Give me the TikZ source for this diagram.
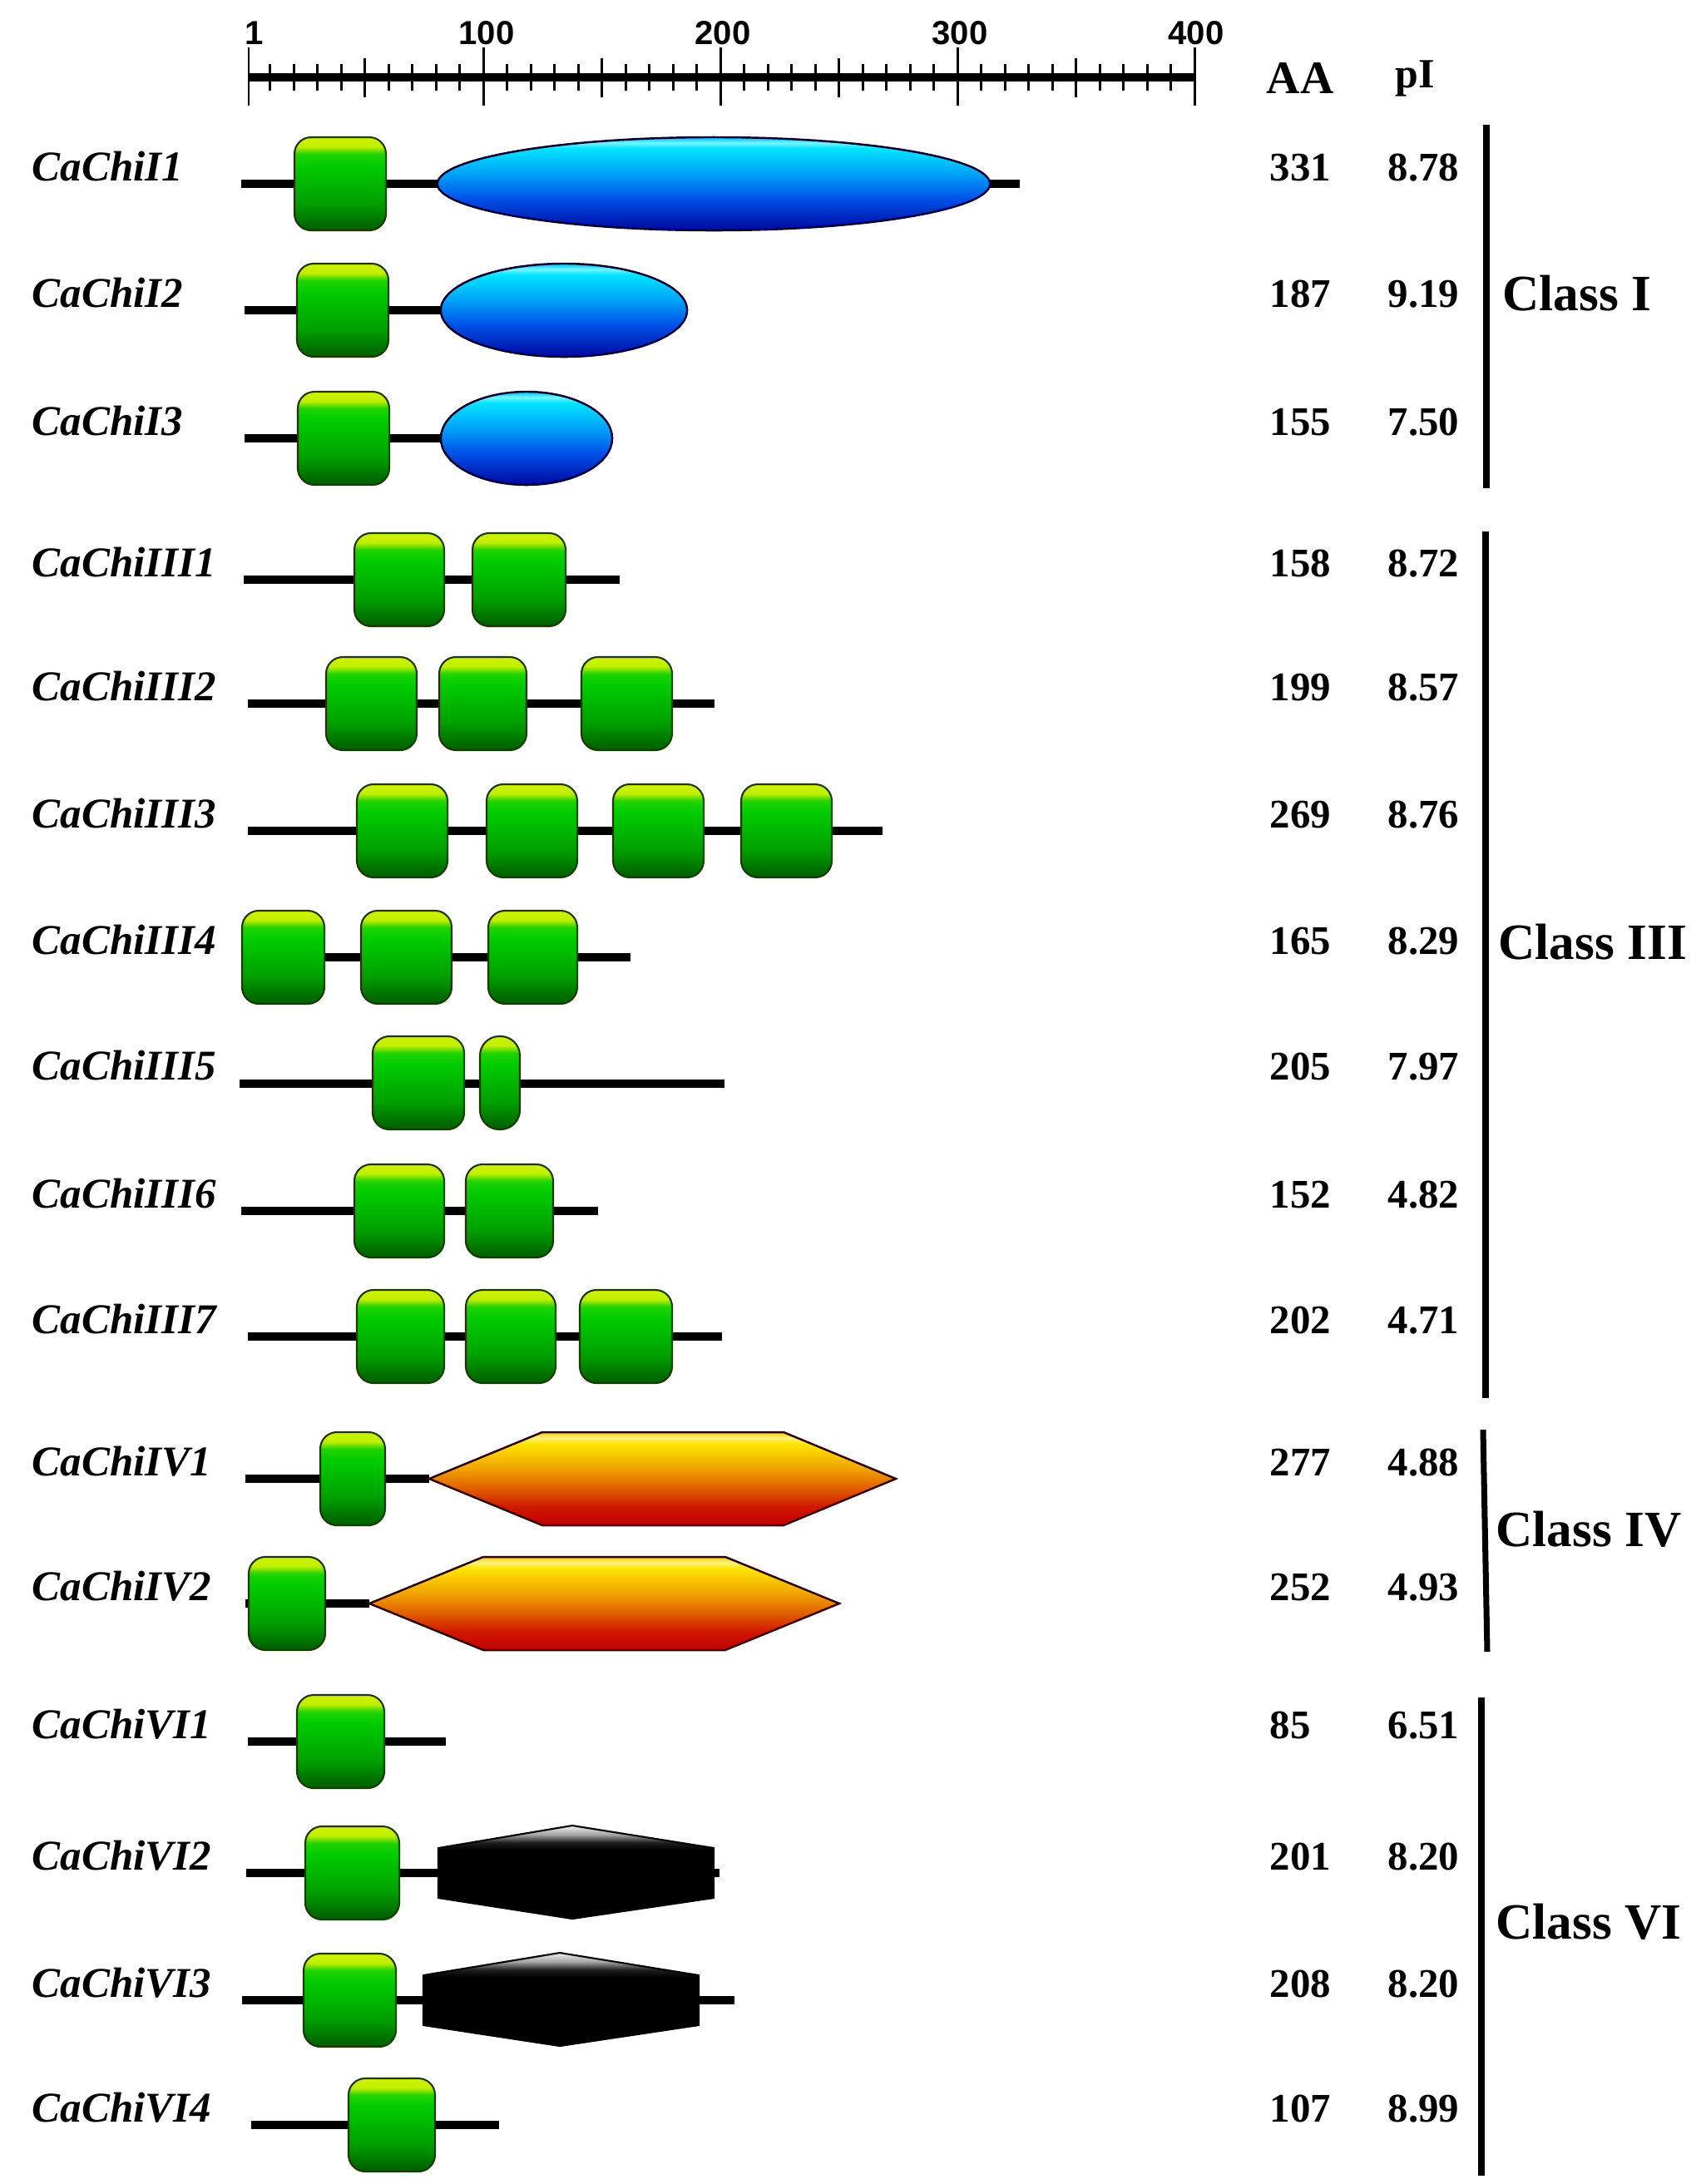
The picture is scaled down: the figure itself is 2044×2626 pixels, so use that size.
\documentclass[tikz,border=0pt]{standalone}
\usepackage{fontspec}
\setmainfont{Liberation Serif}
\newfontfamily\scalefnt{Liberation Sans}
\definecolor{gA}{HTML}{005C00}
\definecolor{gB}{HTML}{00A000}
\definecolor{gC}{HTML}{00CC00}
\definecolor{gD}{HTML}{20D400}
\definecolor{gE}{HTML}{C0EE00}
\definecolor{gF}{HTML}{D0F200}
\definecolor{bA}{HTML}{0008A0}
\definecolor{bB}{HTML}{0050E8}
\definecolor{bC}{HTML}{00A0F8}
\definecolor{bD}{HTML}{00E4FF}
\definecolor{bE}{HTML}{70F6FF}
\definecolor{bF}{HTML}{00C0E8}
\definecolor{hA}{HTML}{C00000}
\definecolor{hB}{HTML}{D01800}
\definecolor{hC}{HTML}{E06000}
\definecolor{hD}{HTML}{F0A000}
\definecolor{hE}{HTML}{FFE600}
\definecolor{hF}{HTML}{FFF080}
\definecolor{hG}{HTML}{F0D000}
\definecolor{kA}{HTML}{000000}
\definecolor{kB}{HTML}{202020}
\definecolor{kC}{HTML}{A0A0A0}
\definecolor{kD}{HTML}{F0F0F0}
\definecolor{gedge}{HTML}{1C3A00}
\definecolor{bedge}{HTML}{000030}
\definecolor{hedge}{HTML}{300000}
\pgfdeclareverticalshading{gshade}{100bp}{color(0bp)=(gA); color(25bp)=(gA); color(40bp)=(gB); color(60bp)=(gC); color(66bp)=(gD); color(70bp)=(gE); color(75bp)=(gF); color(100bp)=(gF)}
\pgfdeclareverticalshading{eshade}{100bp}{color(0bp)=(bA); color(25bp)=(bA); color(42bp)=(bB); color(55bp)=(bC); color(69bp)=(bD); color(72bp)=(bE); color(75bp)=(bF); color(100bp)=(bF)}
\pgfdeclareverticalshading{hshade}{100bp}{color(0bp)=(hA); color(25bp)=(hA); color(35bp)=(hB); color(45bp)=(hC); color(55bp)=(hD); color(69bp)=(hE); color(72bp)=(hF); color(75bp)=(hG); color(100bp)=(hG)}
\pgfdeclareverticalshading{kshade}{100bp}{color(0bp)=(kA); color(25bp)=(kA); color(62bp)=(kA); color(66bp)=(kB); color(70bp)=(kC); color(75bp)=(kD); color(100bp)=(kD)}
\newcommand\gdom[3]{\shade[gbox] (#1,#3-56) rectangle (#2,#3+56);}
\newcommand\hexdom[5]{\shade[hbox] (#1,#5) -- (#2,#5-56) -- (#3,#5-56) -- (#4,#5) -- (#3,#5+56) -- (#2,#5+56) -- cycle;}
\newcommand\blkdom[4]{\shade[kbox] (#1,#4-30) -- (#2,#4-57) -- (#3,#4-30) -- (#3,#4+30) -- (#2,#4+55) -- (#1,#4+30) -- cycle;}
\newcommand\rowtxt[5]{\node[lbl] (l#1) at (38,#2-4) {#3};
  \node[num] (a#1) at (1526,#2-4) {#4};
  \node[num] (p#1) at (1668,#2-4) {#5};}
\begin{document}
\begin{tikzpicture}[x=0.01cm,y=-0.01cm,
  bb/.style={line width=2.85pt, black},
  gbox/.style={shading=gshade, draw=gedge, line width=0.6pt, rounded corners=5.7pt},
  ebox/.style={shading=eshade, draw=bedge, line width=0.7pt},
  hbox/.style={shading=hshade, draw=hedge, line width=0.7pt},
  kbox/.style={shading=kshade, draw=black, line width=0.6pt},
  lbl/.style={anchor=base west, inner sep=0pt, font=\fontsize{14.5}{16}\selectfont\bfseries\itshape},
  num/.style={anchor=base west, inner sep=0pt, font=\fontsize{13.9}{15}\selectfont\bfseries},
  cls/.style={anchor=base west, inner sep=0pt, font=\fontsize{17.4}{19}\selectfont\bfseries},
  sclbl/.style={anchor=base, inner sep=0pt, font=\scalefnt\fontsize{11.4}{12}\selectfont\bfseries},
  tick/.style={line width=0.85pt, black},
  clsbar/.style={line width=2pt, black}]
\useasboundingbox (0,0) rectangle (2044,2626);
\fill[white] (0,0) rectangle (2044,2626);

% scale bar
\draw[line width=2.85pt] (299,93) -- (1436,93);
\foreach \t in {10,20,...,390} \draw[tick] ({299+(\t-1)*2.85},77) -- ({299+(\t-1)*2.85},109);
\foreach \t in {50,150,250,350} \draw[tick] ({299+(\t-1)*2.85},70) -- ({299+(\t-1)*2.85},117);
\foreach \t in {1,100,200,300,400} \draw[tick] ({299+(\t-1)*2.85},57) -- ({299+(\t-1)*2.85},127);
\node[sclbl] (s1) at (306,53) {1};
\node[sclbl] (s100) at (585,53) {100};
\node[sclbl] (s200) at (869,53) {200};
\node[sclbl] (s300) at (1154,53) {300};
\node[sclbl] (s400) at (1438,53) {400};

% header
\node[anchor=base west, inner sep=0pt, font=\fontsize{15.9}{17}\selectfont\bfseries] (hAA) at (1522,112) {AA};
\node[anchor=base west, inner sep=0pt, font=\fontsize{14.2}{16}\selectfont\bfseries] (hpI) at (1677,105) {pI};

% backbones
\draw[bb] (290,221) -- (1226,221);
\draw[bb] (294,373) -- (826,373);
\draw[bb] (294,527) -- (737,527);
\draw[bb] (293,697) -- (745,697);
\draw[bb] (298,846) -- (859,846);
\draw[bb] (298,999) -- (1061,999);
\draw[bb] (291,1151) -- (758,1151);
\draw[bb] (288,1303) -- (871,1303);
\draw[bb] (290,1456) -- (719,1456);
\draw[bb] (298,1607) -- (868,1607);
\draw[bb] (295,1778) -- (516,1778);
\draw[bb] (295,1928) -- (444,1928);
\draw[bb] (298,2094) -- (536,2094);
\draw[bb] (296,2252) -- (865,2252);
\draw[bb] (291,2405) -- (883,2405);
\draw[bb] (302,2555) -- (600,2555);

% Class I
\gdom{354}{464}{221}
\shade[ebox] (858,221) ellipse [x radius=3.32cm, y radius=0.56cm];
\gdom{357}{467}{373}
\shade[ebox] (678,373) ellipse [x radius=1.48cm, y radius=0.56cm];
\gdom{358}{468}{527}
\shade[ebox] (633,527) ellipse [x radius=1.03cm, y radius=0.56cm];

% Class III
\gdom{426}{534}{697} \gdom{568}{680}{697}
\gdom{392}{501}{846} \gdom{528}{633}{846} \gdom{699}{808}{846}
\gdom{429}{538}{999} \gdom{585}{694}{999} \gdom{737}{846}{999} \gdom{891}{1000}{999}
\gdom{291}{390}{1151} \gdom{434}{543}{1151} \gdom{587}{694}{1151}
\gdom{448}{558}{1302}
\shade[gbox, rounded corners=6.6pt] (577,1302-56) rectangle (625,1302+56);
\gdom{426}{534}{1456} \gdom{560}{665}{1456}
\gdom{429}{534}{1607} \gdom{560}{668}{1607} \gdom{697}{808}{1607}

% Class IV
\gdom{385}{463}{1778}
\hexdom{516}{652}{942}{1077}{1778}
\gdom{299}{391}{1928}
\hexdom{444}{581}{872}{1009}{1928}

% Class VI
\gdom{357}{462}{2094}
\gdom{367}{480}{2252}
\blkdom{527}{688}{858}{2252}
\gdom{365}{476}{2405}
\blkdom{509}{673}{840}{2405}
\gdom{419}{523}{2555}

% texts
\rowtxt{I1}{221}{CaChiI1}{331}{8.78}
\rowtxt{I2}{373}{CaChiI2}{187}{9.19}
\rowtxt{I3}{527}{CaChiI3}{155}{7.50}
\rowtxt{III1}{697}{CaChiIII1}{158}{8.72}
\rowtxt{III2}{846}{CaChiIII2}{199}{8.57}
\rowtxt{III3}{999}{CaChiIII3}{269}{8.76}
\rowtxt{III4}{1151}{CaChiIII4}{165}{8.29}
\rowtxt{III5}{1302}{CaChiIII5}{205}{7.97}
\rowtxt{III6}{1456}{CaChiIII6}{152}{4.82}
\rowtxt{III7}{1607}{CaChiIII7}{202}{4.71}
\rowtxt{IV1}{1778}{CaChiIV1}{277}{4.88}
\rowtxt{IV2}{1928}{CaChiIV2}{252}{4.93}
\rowtxt{VI1}{2094}{CaChiVI1}{85}{6.51}
\rowtxt{VI2}{2252}{CaChiVI2}{201}{8.20}
\rowtxt{VI3}{2405}{CaChiVI3}{208}{8.20}
\rowtxt{VI4}{2555}{CaChiVI4}{107}{8.99}

% class bars
\coordinate (cIa) at (1787,150); \coordinate (cIb) at (1787,587);
\coordinate (cIIIa) at (1786,639); \coordinate (cIIIb) at (1786,1681);
\coordinate (cIVa) at (1783,1719); \coordinate (cIVb) at (1788,1986);
\coordinate (cVIa) at (1781,2041); \coordinate (cVIb) at (1781,2616);
\draw[clsbar] (cIa) -- (cIb);
\draw[clsbar] (cIIIa) -- (cIIIb);
\draw[clsbar] (cIVa) -- (cIVb);
\draw[clsbar] (cVIa) -- (cVIb);
\node[cls] (kI) at (1806,373) {Class I};
\node[cls] (kIII) at (1801,1153) {Class III};
\node[cls] (kIV) at (1798,1859) {Class IV};
\node[cls] (kVI) at (1798,2331) {Class VI};
\end{tikzpicture}
\end{document}
